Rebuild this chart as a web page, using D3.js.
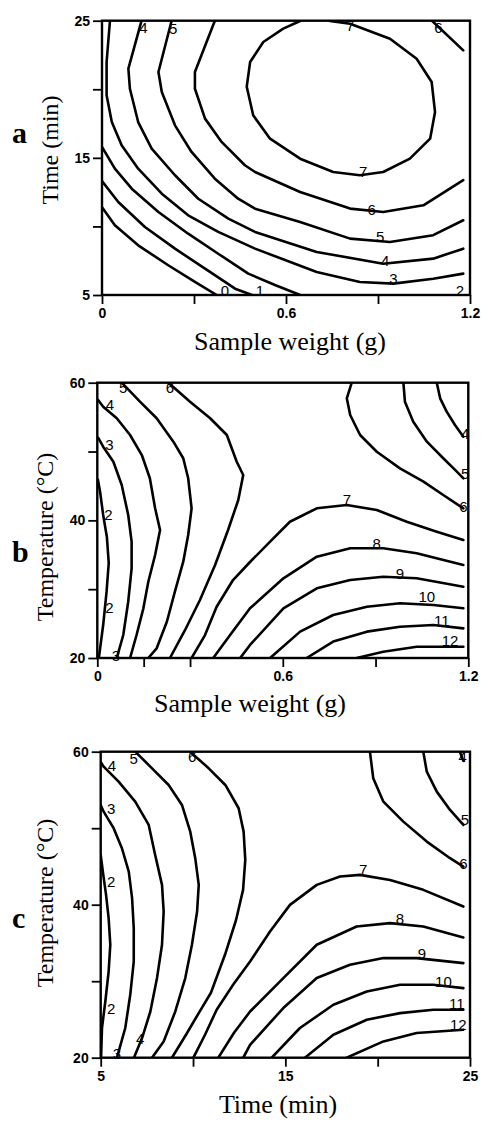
<!DOCTYPE html>
<html lang="en">
<head>
<meta charset="UTF-8">
<title>Contour plots</title>
<script src="https://d3js.org/d3.v7.min.js"></script>
<style>
  body { margin: 0; background: #fff; }
  .tick text { font-family: "Liberation Sans", Arial, sans-serif; font-size: 14px; font-weight: bold; }
  .tick line { stroke: #000; stroke-width: 1.8; }
  .clab { font-family: "Liberation Sans", Arial, sans-serif; font-size: 15px; fill: #000; }
  .title { font-family: "Liberation Serif", "Times New Roman", serif; fill: #000; }
</style>
</head>
<body>
<div id="chart"></div>
<script>
// ---- panel a : sample weight (g) x time (min)
const aXTicks = [0, 0.3, 0.6, 0.9, 1.2];
const aXLabels = [0, 0.6, 1.2];
const aYTicks = [5, 10, 15, 20, 25];
const aYLabels = [5, 15, 25];

const a0 = [[0, 11.4], [0.042, 10.08], [0.118, 8.62], [0.216, 7.17], [0.303, 5.95], [0.374, 5.0]];
const a1 = [[0, 13.3], [0.053, 11.78], [0.140, 9.96], [0.238, 8.38], [0.336, 6.92], [0.434, 5.46], [0.489, 5.0]];
const a2 = [[0, 15.8], [0.042, 14.21], [0.097, 12.75], [0.184, 11.05], [0.281, 9.47], [0.379, 8.01], [0.477, 6.56], [0.564, 5.73], [0.646, 5.0]];
const a3 = [[0.026, 25], [0.015, 21.99], [0.015, 19.56], [0.032, 17.62], [0.064, 15.92], [0.118, 14.21], [0.195, 12.39], [0.281, 10.81], [0.379, 9.60], [0.499, 8.38], [0.700, 6.68], [0.841, 5.95], [0.950, 5.83], [1.080, 6.19], [1.178, 6.56]];
const a4 = [[0.129, 25], [0.086, 21.5], [0.091, 20.04], [0.118, 17.61], [0.162, 15.67], [0.238, 13.73], [0.314, 12.02], [0.412, 10.57], [0.499, 9.60], [0.700, 8.14], [0.917, 7.28], [1.080, 7.65], [1.178, 8.38]];
const a5 = [[0.227, 25], [0.184, 21.26], [0.195, 19.80], [0.238, 17.37], [0.292, 15.43], [0.368, 13.48], [0.444, 12.02], [0.499, 11.29], [0.646, 10.32], [0.809, 9.11], [0.939, 8.87], [1.080, 9.36], [1.178, 10.45]];
const a6 = [[0.368, 25], [0.303, 21.26], [0.303, 20.04], [0.336, 17.86], [0.390, 16.16], [0.466, 14.46], [0.499, 13.97], [0.646, 12.51], [0.809, 11.30], [0.917, 11.05], [1.048, 11.54], [1.178, 13.37]];
const a7 = [[0.646, 24.98], [0.591, 24.42], [0.526, 23.45], [0.483, 21.99], [0.472, 20.19], [0.493, 18.10], [0.548, 16.40], [0.646, 14.94], [0.754, 13.97], [0.841, 13.73], [0.917, 13.97], [1.004, 14.94], [1.070, 16.40], [1.086, 18.34], [1.075, 20.53], [1.026, 22.23], [0.939, 23.69], [0.809, 24.78], [0.743, 24.98]];
const a6r = [[1.076, 25], [1.178, 22.84]];
const aLabels = [["0", 0.401, 5.35], ["1", 0.515, 5.35], ["2", 1.167, 5.35], ["3", 0.950, 6.19], ["4", 0.923, 7.53],
  ["5", 0.907, 9.23], ["6", 0.879, 11.25], ["7", 0.852, 14.02], ["7", 0.809, 24.66], ["4", 0.135, 24.54],
  ["5", 0.232, 24.42], ["6", 1.097, 24.47]];

// ---- panel b : sample weight (g) x temperature (°C)
const bXTicks = [0, 0.15, 0.3, 0.6, 0.9, 1.2];
const bXLabels = [0, 0.6, 1.2];
const bYTicks = [20, 30, 40, 50, 60];
const bYLabels = [20, 40, 60];

const b2 = [[0.005, 20], [0.019, 24.79], [0.030, 29.63], [0.037, 33.80], [0.031, 37.58], [0.019, 40.78], [0.009, 44.16], [0.002, 45.9]];
const b3 = [[0.003, 52.0], [0.019, 50.70], [0.052, 48.52], [0.079, 45.14], [0.100, 40.78], [0.111, 36.90], [0.111, 33.03], [0.100, 28.18], [0.084, 23.34], [0.063, 20]];
const b4 = [[0.002, 57.5], [0.019, 56.51], [0.063, 54.83], [0.106, 52.40], [0.144, 49.49], [0.170, 46.11], [0.187, 41.75], [0.203, 38.60], [0.187, 34.96], [0.165, 31.08], [0.149, 27.22], [0.127, 23.34], [0.106, 20]];
const b5 = [[0.079, 60], [0.138, 57.24], [0.192, 54.83], [0.246, 51.43], [0.278, 49.02], [0.294, 46.11], [0.305, 41.75], [0.294, 37.87], [0.278, 33.99], [0.251, 29.63], [0.225, 25.27], [0.192, 21.41], [0.165, 20]];
const b6 = [[0.230, 60], [0.300, 57.24], [0.365, 54.83], [0.419, 52.40], [0.451, 48.52], [0.472, 46.59], [0.456, 42.96], [0.423, 38.60], [0.381, 33.51], [0.332, 28.43], [0.284, 24.07], [0.235, 20]];
const b7 = [[0.305, 20], [0.348, 23.3], [0.386, 27.45], [0.439, 31.33], [0.494, 33.95], [0.559, 36.90], [0.623, 39.80], [0.710, 41.75], [0.807, 42.23], [0.904, 41.50], [1.001, 39.80], [1.098, 38.35], [1.184, 37.14]];
const b8 = [[0.375, 20], [0.429, 23.3], [0.494, 27.22], [0.602, 31.58], [0.710, 34.72], [0.818, 35.94], [0.925, 35.94], [1.033, 35.21], [1.184, 33.51]];
const b9 = [[0.462, 20], [0.494, 21.89], [0.602, 27.22], [0.710, 30.13], [0.818, 31.33], [0.925, 31.81], [1.033, 31.58], [1.184, 30.36]];
const b10 = [[0.559, 20], [0.656, 23.83], [0.763, 26.25], [0.872, 27.45], [0.979, 27.95], [1.087, 27.70], [1.184, 27.22]];
const b11 = [[0.677, 20], [0.763, 22.38], [0.872, 23.83], [0.979, 24.55], [1.087, 24.80], [1.184, 24.31]];
const b12 = [[0.839, 20], [0.925, 20.92], [1.033, 21.64], [1.184, 21.64]];
const b6r = [[0.823, 60], [0.807, 57.73], [0.818, 55.31], [0.850, 52.40], [0.904, 49.97], [0.979, 47.56], [1.055, 45.62], [1.119, 43.68], [1.184, 41.75]];
const b5r = [[0.990, 60], [0.995, 57.24], [1.022, 54.33], [1.066, 51.43], [1.119, 49.02], [1.163, 47.07], [1.184, 46.11]];
const b4r = [[1.098, 60], [1.109, 57.73], [1.130, 55.79], [1.157, 53.85], [1.184, 52.15]];
const bLabels = [["2", 0.036, 40.78], ["2", 0.039, 27.3], ["3", 0.039, 51.05], ["3", 0.060, 20.4], ["4", 0.041, 56.76],
  ["5", 0.084, 59.27], ["6", 0.235, 59.27], ["7", 0.807, 42.96], ["8", 0.904, 36.66], ["9", 0.979, 32.30],
  ["10", 1.066, 28.91], ["11", 1.114, 25.52], ["12", 1.141, 22.61], ["6", 1.184, 41.98], ["5", 1.190, 46.8], ["4", 1.190, 52.65]];

// ---- panel c : time (min) x temperature (°C)
const cXTicks = [5, 10, 15, 20, 25];
const cXLabels = [5, 15, 25];
const cYTicks = [20, 30, 40, 50, 60];
const cYLabels = [20, 40, 60];

const c2 = [[5.02, 20], [5.07, 23.88], [5.25, 27.35], [5.43, 31.27], [5.52, 34.76], [5.43, 38.24], [5.29, 41.29], [5.14, 43.90], [5.0, 46.5]];
const c3 = [[5.0, 53.04], [5.16, 52.16], [5.70, 50.0], [6.15, 47.38], [6.52, 44.33], [6.70, 40.85], [6.79, 36.94], [6.79, 32.57], [6.60, 28.22], [6.33, 23.88], [5.88, 20]];
const c4 = [[5.0, 58.65], [5.16, 58.04], [5.97, 56.08], [6.87, 53.47], [7.60, 50.43], [7.95, 46.51], [8.32, 42.59], [8.41, 39.10], [8.32, 34.76], [8.05, 30.41], [7.69, 26.04], [7.24, 22.57], [6.80, 20]];
const c5 = [[6.87, 60], [7.78, 57.83], [8.68, 55.65], [9.40, 53.04], [9.85, 49.55], [10.12, 46.08], [10.31, 42.59], [10.22, 39.10], [9.94, 34.76], [9.58, 30.41], [9.04, 26.04], [8.41, 22.13], [7.78, 20]];
const c6 = [[9.84, 60], [10.85, 57.83], [11.75, 55.65], [12.47, 52.61], [12.74, 49.55], [12.83, 45.86], [12.71, 41.94], [12.33, 38.0], [11.73, 33.45], [10.97, 28.49], [10.3, 25.8], [9.62, 23.0], [8.86, 20]];
const c7 = [[10.02, 20], [10.65, 23.0], [11.28, 26.27], [12.17, 29.53], [13.09, 32.57], [14.17, 36.49], [15.25, 39.98], [16.70, 42.59], [17.96, 43.68], [19.04, 43.90], [20.67, 43.24], [22.47, 41.94], [24.64, 39.76]];
const c8 = [[11.37, 20], [12.22, 23.26], [13.09, 26.04], [14.89, 30.41], [16.70, 34.76], [18.86, 37.15], [20.67, 37.59], [22.47, 37.15], [24.64, 35.71]];
const c9 = [[12.72, 20], [13.09, 21.69], [14.89, 26.49], [16.70, 30.41], [18.50, 32.14], [20.31, 33.02], [22.11, 33.02], [24.64, 32.36]];
const c10 = [[14.26, 20], [15.79, 23.88], [17.60, 26.92], [19.41, 28.66], [21.21, 29.53], [23.01, 29.53], [24.64, 29.10]];
const c11 = [[16.06, 20], [17.60, 23.0], [19.41, 24.96], [21.21, 25.83], [23.01, 26.27], [24.64, 26.27]];
const c12 = [[18.32, 20], [20.31, 22.13], [22.11, 23.22], [24.64, 23.65]];
const c6r = [[19.58, 60], [19.76, 56.53], [20.31, 53.47], [21.39, 50.86], [22.66, 48.25], [23.92, 46.08], [24.64, 44.98]];
const c5r = [[22.47, 60], [22.66, 57.39], [23.20, 54.78], [23.92, 52.39], [24.64, 50.43]];
const c4r = [[24.45, 60], [24.64, 58.8]];
const cLabels = [["2", 5.57, 43.02], ["2", 5.57, 26.49], ["3", 5.57, 52.61], ["3", 5.88, 20.6], ["4", 5.61, 58.26],
  ["4", 7.14, 22.57], ["5", 6.79, 59.14], ["6", 9.95, 59.35], ["7", 19.22, 44.55], ["8", 21.21, 38.24],
  ["9", 22.39, 33.67], ["10", 23.56, 29.96], ["11", 24.28, 27.14], ["12", 24.37, 24.31], ["6", 24.64, 45.42],
  ["5", 24.73, 51.08], ["4", 24.6, 59.4]];

// layout of the three panels
const panels = [
  { id: "a", left: 102, right: 470, top: 20.7, bottom: 295, xDomain: [0, 1.2], yDomain: [5, 25],
    xTicks: aXTicks, xLabels: aXLabels, yTicks: aYTicks, yLabels: aYLabels,
    lines: [a0, a1, a2, a3, a4, a5, a6, a7, a6r], labels: aLabels,
    letterY: 143, yTitle: "Time (min)", yTitleX: 58, yTitleY: 150,
    xTitle: "Sample weight (g)", xTitleX: 290, xTitleY: 350 },
  { id: "b", left: 97.3, right: 468.3, top: 382.7, bottom: 658, xDomain: [0, 1.2], yDomain: [20, 60],
    xTicks: bXTicks, xLabels: bXLabels, yTicks: bYTicks, yLabels: bYLabels,
    lines: [b2, b3, b4, b5, b6, b7, b8, b9, b10, b11, b12, b6r, b5r, b4r], labels: bLabels,
    letterY: 562, yTitle: "Temperature (°C)", yTitleX: 53, yTitleY: 537,
    xTitle: "Sample weight (g)", xTitleX: 250, xTitleY: 712 },
  { id: "c", left: 100.7, right: 470, top: 751.7, bottom: 1057.7, xDomain: [5, 25], yDomain: [20, 60],
    xTicks: cXTicks, xLabels: cXLabels, yTicks: cYTicks, yLabels: cYLabels,
    lines: [c2, c3, c4, c5, c6, c7, c8, c9, c10, c11, c12, c6r, c5r, c4r], labels: cLabels,
    letterY: 928, yTitle: "Temperature (°C)", yTitleX: 53, yTitleY: 903,
    xTitle: "Time (min)", xTitleX: 278, xTitleY: 1113 }
];

const svg = d3.select("#chart").append("svg")
  .attr("width", 487)
  .attr("height", 1122)
  .style("display", "block");

panels.forEach(p => {
  const x = d3.scaleLinear().domain(p.xDomain).range([p.left, p.right]);
  const y = d3.scaleLinear().domain(p.yDomain).range([p.bottom, p.top]);
  const g = svg.append("g");

  g.append("clipPath").attr("id", "clip-" + p.id)
    .append("rect")
    .attr("x", p.left).attr("y", p.top)
    .attr("width", p.right - p.left).attr("height", p.bottom - p.top);

  // axes (ticks outside, labels only on some ticks)
  const xa = g.append("g")
    .attr("transform", `translate(0,${p.bottom})`)
    .call(d3.axisBottom(x).tickValues(p.xTicks).tickSize(9).tickPadding(4)
      .tickFormat(d => p.xLabels.includes(d) ? d : ""));
  xa.select(".domain").remove();

  const ya = g.append("g")
    .attr("transform", `translate(${p.left},0)`)
    .call(d3.axisLeft(y).tickValues(p.yTicks).tickSize(9).tickPadding(3)
      .tickFormat(d => p.yLabels.includes(d) ? d : ""));
  ya.select(".domain").remove();

  // contour lines
  const line = d3.line().x(d => x(d[0])).y(d => y(d[1]));
  g.append("g")
    .attr("clip-path", `url(#clip-${p.id})`)
    .selectAll("path")
    .data(p.lines)
    .join("path")
    .attr("d", line)
    .attr("fill", "none")
    .attr("stroke", "#000")
    .attr("stroke-width", 2.6)
    .attr("stroke-linejoin", "round")
    .attr("stroke-linecap", "round");

  // frame
  g.append("rect")
    .attr("x", p.left).attr("y", p.top)
    .attr("width", p.right - p.left).attr("height", p.bottom - p.top)
    .attr("fill", "none")
    .attr("stroke", "#000")
    .attr("stroke-width", 2.4);

  // contour level labels
  g.selectAll(".clab")
    .data(p.labels)
    .join("text")
    .attr("class", "clab")
    .attr("x", d => x(d[1]))
    .attr("y", d => y(d[2]))
    .attr("text-anchor", "middle")
    .attr("dominant-baseline", "central")
    .text(d => d[0]);

  // titles
  g.append("text")
    .attr("class", "title")
    .attr("x", 12)
    .attr("y", p.letterY)
    .style("font-size", "30px")
    .style("font-weight", "bold")
    .text(p.id);

  g.append("text")
    .attr("class", "title")
    .attr("transform", `translate(${p.yTitleX},${p.yTitleY}) rotate(-90)`)
    .attr("text-anchor", "middle")
    .style("font-size", "24px")
    .text(p.yTitle);

  g.append("text")
    .attr("class", "title")
    .attr("x", p.xTitleX)
    .attr("y", p.xTitleY)
    .attr("text-anchor", "middle")
    .style("font-size", "26px")
    .text(p.xTitle);
});
</script>
</body>
</html>
